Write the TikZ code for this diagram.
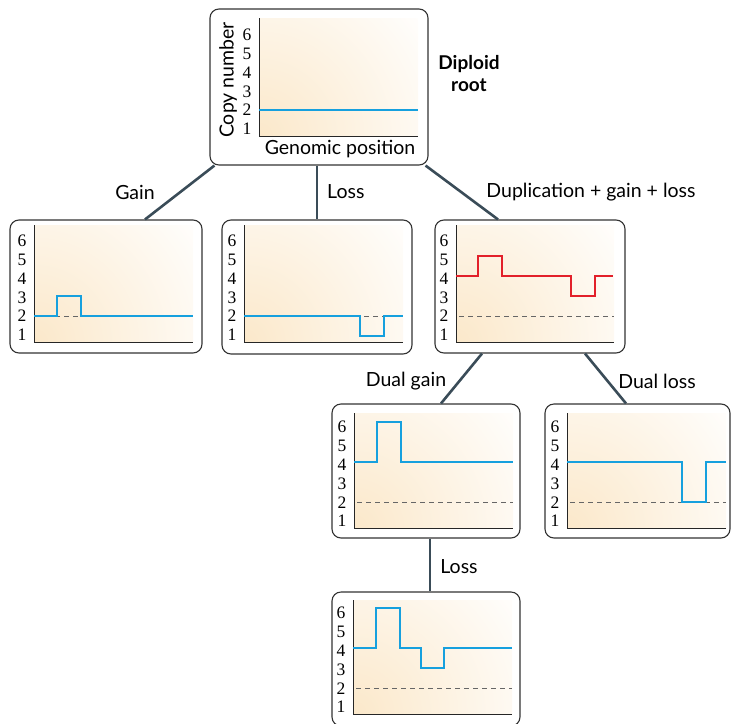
\documentclass[tikz,border=0pt]{standalone}
\usepackage{fontspec}
\newfontfamily\lab{Lato}
\newfontfamily\num{Liberation Serif}
\definecolor{cnblue}{RGB}{22,160,222}
\definecolor{cnred}{RGB}{226,32,42}
\definecolor{edge}{RGB}{58,76,88}
\definecolor{cream}{RGB}{251,232,202}
\tikzset{
  panelbox/.style={draw=black!80, line width=1.1pt, rounded corners=9pt, inner sep=0pt},
  link/.style={draw=edge, line width=2.6pt},
  axisline/.style={draw=black!85, line width=1pt},
  cnline/.style={draw=cnblue, line width=2.8pt, line join=miter},
  redline/.style={draw=cnred, line width=2.8pt, line join=miter},
  refline/.style={draw=black!60, line width=0.9pt, dash pattern=on 5pt off 4pt},
  tick/.style={font=\num\fontsize{17.5}{17.5}\selectfont, inner sep=0pt},
  lbl/.style={font=\lab\fontsize{19.5}{22}\selectfont, inner sep=0pt},
  levels/.style={shift={(0,#1+14)}, y=20pt},
}
% #1 name, #2 L, #3 T, #4 R, #5 B, #6 axis x, #7 axis top, #8 axis bottom, #9 axis right
\newcommand\cnpanel[9]{%
  \pgfmathsetmacro\pw{#4-#2}\pgfmathsetmacro\ph{#5-#3}%
  \pgfmathsetmacro\pcx{(#2+#4)/2}\pgfmathsetmacro\pcy{(#3+#5)/2}%
  \node[panelbox, minimum width=\pw pt, minimum height=\ph pt] (#1) at (\pcx,\pcy) {};
  \begin{scope}
    \clip (#6,#7) rectangle (#9,#8);
    \shade[inner color=cream, outer color=white] (#6,#8) circle (210pt);
  \end{scope}
  \draw[axisline] (#6,#7) -- (#6,#8) -- (#9,#8);
  \foreach \k in {1,...,6} {\node[tick] (#1-t\k) at (#6-12, #8-7-\k*18.8+18.8) {\k};}
}
\begin{document}
\begin{tikzpicture}[x=1pt, y=-1pt]
\useasboundingbox (0,0) rectangle (733,723);

% root
\cnpanel{root}{210}{9}{428}{165}{259}{18}{136}{418}
\begin{scope}[levels=136]
  \draw[cnline] (259,2) -- (418,2);
\end{scope}
\node[lbl, rotate=90] (ylab) at (228,80) {Copy number};
\node[lbl] (xlab) at (340,149) {Genomic position};
\node[lbl, font=\lab\bfseries\fontsize{19}{22}\selectfont, align=center] (diploid) at (469,74) {Diploid\\root};

% gain
\cnpanel{gain}{10}{220}{202}{353}{34}{225}{342}{193}
\begin{scope}[levels=342]
  \draw[refline] (37,2) -- (193,2);
  \draw[cnline] (34,2) -- (57,2) -- (57,3) -- (81,3) -- (81,2) -- (193,2);
\end{scope}

% loss
\cnpanel{loss}{222}{220}{412}{354}{244}{225}{342}{403}
\begin{scope}[levels=342]
  \draw[refline] (247,2) -- (403,2);
  \draw[cnline] (244,2) -- (360,2) -- (360,1) -- (384,1) -- (384,2) -- (403,2);
\end{scope}

% duplication
\cnpanel{dup}{435}{220}{625}{353}{456}{225}{342}{614}
\begin{scope}[levels=342]
  \draw[refline] (459,2) -- (614,2);
  \draw[redline] (456,4) -- (478,4) -- (478,5) -- (502,5) -- (502,4) -- (571,4) -- (571,3) -- (595,3) -- (595,4) -- (613,4);
\end{scope}

% dual gain
\cnpanel{dualgain}{332}{404}{520}{538}{354}{413}{528}{513}
\begin{scope}[levels=528]
  \draw[refline] (357,2) -- (513,2);
  \draw[cnline] (354,4) -- (377,4) -- (377,6) -- (401,6) -- (401,4) -- (513,4);
\end{scope}

% dual loss
\cnpanel{dualloss}{545}{404}{730}{538}{567}{413}{528}{726}
\begin{scope}[levels=528]
  \draw[refline] (570,2) -- (726,2);
  \draw[cnline] (567,4) -- (682,4) -- (682,2) -- (706,2) -- (706,4) -- (726,4);
\end{scope}

% loss after dual gain
\cnpanel{losstwo}{332}{592}{520}{726}{353}{600}{714}{512}
\begin{scope}[levels=714]
  \draw[refline] (356,2) -- (512,2);
  \draw[cnline] (353,4) -- (376,4) -- (376,6) -- (400,6) -- (400,4) -- (421,4) -- (421,3) -- (444,3) -- (444,4) -- (512,4);
\end{scope}

% connectors
\draw[link] ([xshift=5pt]root.south west) -- ([xshift=39pt]gain.north);
\draw[link] (root.south -| loss.north) -- (loss.north);
\draw[link] ([xshift=-3pt]root.south east) -- ([xshift=-32pt]dup.north);
\draw[link] ([xshift=-48pt]dup.south) -- ([xshift=15pt]dualgain.north);
\draw[link] ([xshift=55pt]dup.south) -- ([xshift=-11.5pt]dualloss.north);
\draw[link] ([xshift=4pt]dualgain.south) -- ([xshift=4pt]losstwo.north);

% connector labels
\node[lbl] (tgain) at (135,192) {Gain};
\node[lbl, anchor=west] (tloss) at (327,192) {Loss};
\node[lbl] (tdup) at (591,192) {Duplication + gain + loss};
\node[lbl] (tdg) at (406,381) {Dual gain};
\node[lbl] (tdl) at (657,381) {Dual loss};
\node[lbl] (tlosstwo) at (459,567) {Loss};
\end{tikzpicture}
\end{document}
